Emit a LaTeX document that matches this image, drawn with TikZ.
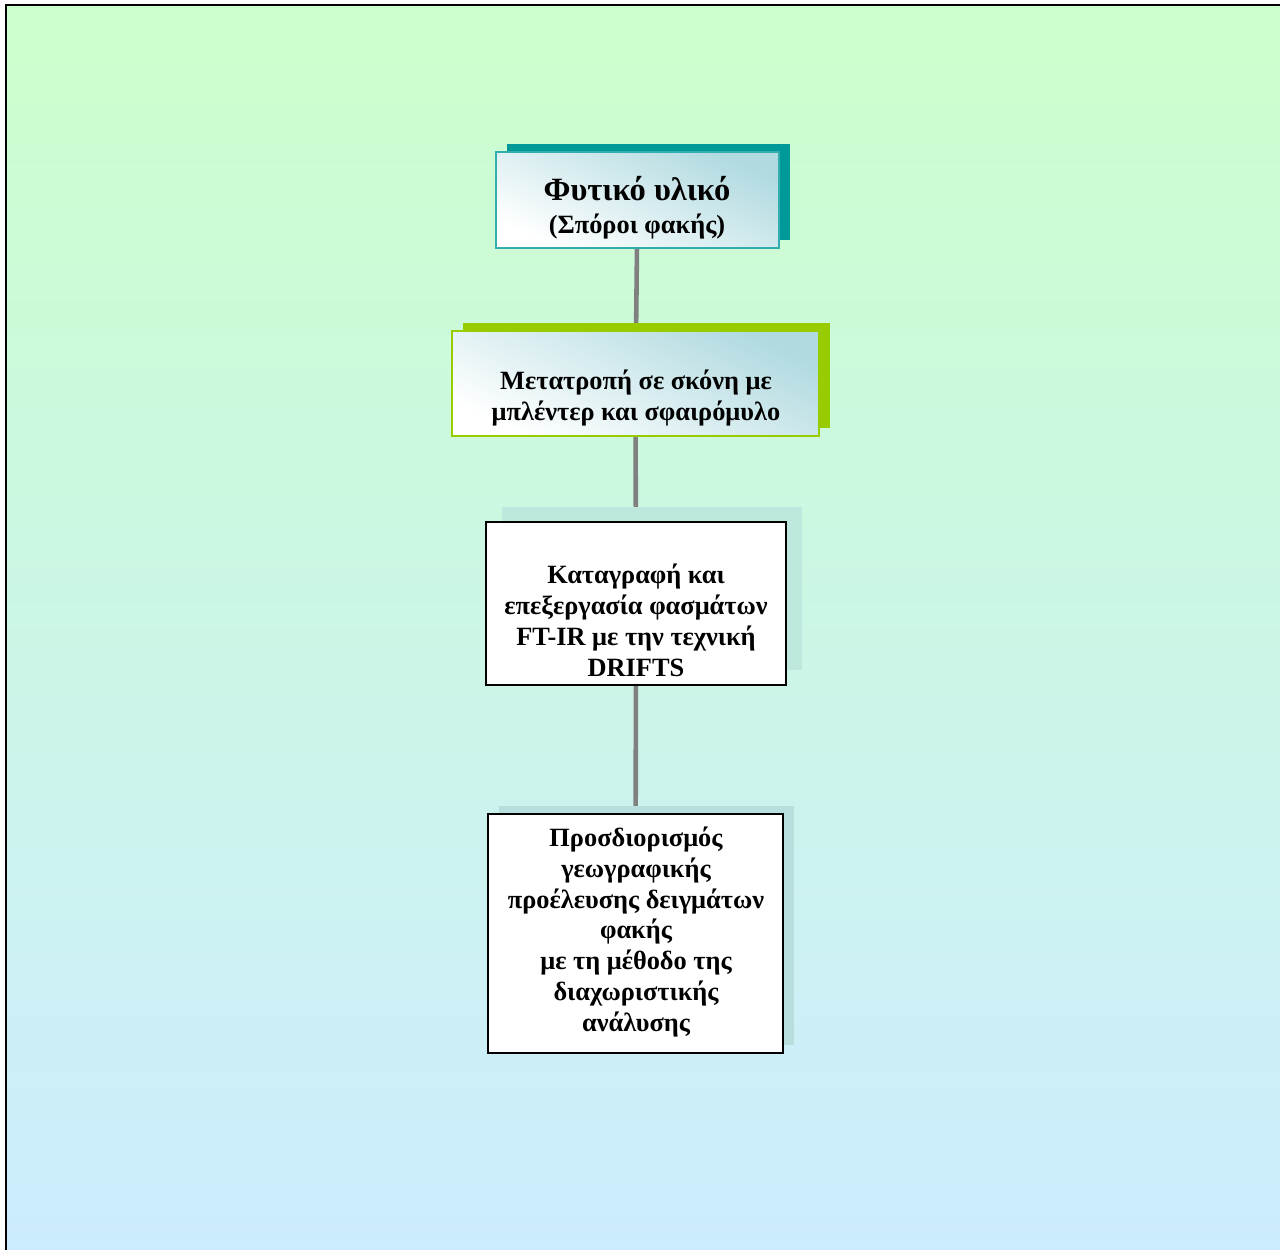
\documentclass[tikz,border=0pt]{standalone}
\usepackage{fontspec}
\setmainfont{Liberation Serif}
\usetikzlibrary{shadows,backgrounds}
\definecolor{bgtop}{RGB}{204,255,204}
\definecolor{bgbottom}{RGB}{204,236,255}
\definecolor{tealshadow}{RGB}{0,153,153}
\definecolor{limeshadow}{RGB}{153,204,0}
\definecolor{paleshadow}{RGB}{190,232,222}
\definecolor{greyshadow}{RGB}{184,222,222}
\definecolor{boxtint}{RGB}{176,218,224}
\definecolor{linkgrey}{RGB}{128,128,128}

\begin{document}
\begin{tikzpicture}[x=0.2mm, y=-0.2mm,
    box/.style={rectangle, inner sep=0pt},
    tinted/.style={box, left color=boxtint, right color=white, shading angle=-25},
    boxtext/.style={font=\bfseries\fontsize{15}{17.6}\selectfont, align=center},
    link/.style={draw=linkgrey, line width=2.6pt}]
    \useasboundingbox (0,0) rectangle (1280,1250);

    % boxes
    \node[tinted, draw=tealshadow!80, line width=0.6pt, minimum width=56.6mm, minimum height=19.2mm,
          drop shadow={shadow xshift=2.2mm, shadow yshift=1.6mm, fill=tealshadow, opacity=1}] (plant) at (637.5,200) {};
    \node[tinted, draw=limeshadow, line width=0.9pt, minimum width=73.4mm, minimum height=21mm,
          drop shadow={shadow xshift=2.2mm, shadow yshift=1.6mm, fill=limeshadow, opacity=1}] (mill) at (635.5,383.5) {};
    \node[box, draw, fill=white, line width=0.9pt, minimum width=60mm, minimum height=32.6mm,
          drop shadow={shadow xshift=3.2mm, shadow yshift=3mm, fill=paleshadow, opacity=1}] (ftir) at (636,603.5) {};
    \node[box, draw, fill=white, line width=0.9pt, minimum width=59mm, minimum height=47.8mm,
          drop shadow={shadow xshift=2.1mm, shadow yshift=1.6mm, fill=greyshadow, opacity=1}] (origin) at (635.5,933.5) {};

    % texts
    \node[boxtext] (plantlabel) at (637,208) {{\fontsize{18.5}{20}\selectfont Φυτικό υλικό}\\[1pt] (Σπόροι φακής)};
    \node[boxtext] (milllabel) at (636,398) {Μετατροπή σε σκόνη με\\ μπλέντερ και σφαιρόμυλο};
    \node[boxtext] (ftirlabel) at (636,620) {Καταγραφή και\\ επεξεργασία φασμάτων\\ FT-IR με την τεχνική\\ DRIFTS};
    \node[boxtext] (originlabel) at (636,932) {Προσδιορισμός\\ γεωγραφικής\\ προέλευσης δειγμάτων\\ φακής\\ με τη μέθοδο της\\ διαχωριστικής\\ ανάλυσης};

    \begin{scope}[on background layer]
        \fill[top color=bgtop, bottom color=bgbottom] (6,5) rectangle (1280,1250);
        \draw[line width=1.3pt] (6,1250) -- (6,5) -- (1280,5);
        \draw[link] (plant) -- (mill);
        \draw[link] (mill) -- (ftir);
        \draw[link] (ftir) -- (origin);
    \end{scope}
\end{tikzpicture}
\end{document}
